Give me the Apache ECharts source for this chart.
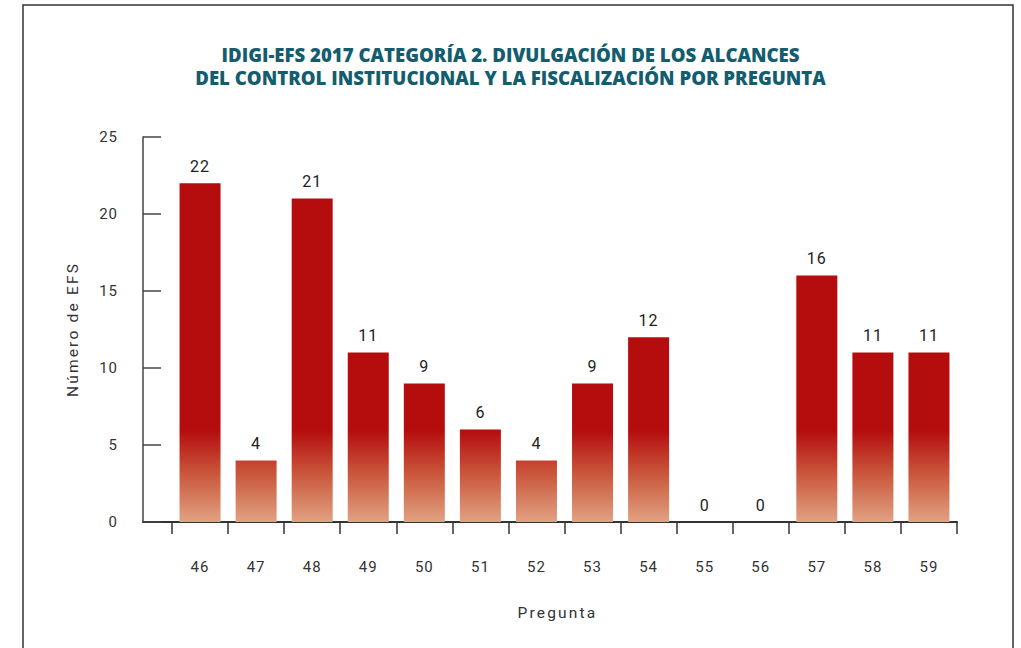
<!DOCTYPE html>
<html>
<head>
<meta charset="utf-8">
<script src="https://cdn.jsdelivr.net/npm/echarts@6/dist/echarts.min.js"></script>
<style>
  html, body { margin: 0; padding: 0; background: #fff; }
  #chart { width: 1021px; height: 648px; }
  /* espaciado de letras como en el original */
  #chart svg text { letter-spacing: 1px; }
  #chart svg text[style*="800"] { letter-spacing: 0; }
  #chart svg text[style*="bold"] { letter-spacing: 0; }
  #chart svg text[style*="15.5px"] { letter-spacing: 2.2px; }
</style>
</head>
<body>
<div id="chart"></div>
<script>
// datos
const preguntas = ['46', '47', '48', '49', '50', '51', '52', '53', '54', '55', '56', '57', '58', '59'];
const numeroEFS = [22, 4, 21, 11, 9, 6, 4, 9, 12, 0, 0, 16, 11, 11];
const yTicks = [0, 5, 10, 15, 20, 25];

const tituloLinea1 = 'IDIGI-EFS 2017 CATEGORÍA 2. DIVULGACIÓN DE LOS ALCANCES';
const tituloLinea2 = 'DEL CONTROL INSTITUCIONAL Y LA FISCALIZACIÓN POR PREGUNTA';

const chart = echarts.init(document.getElementById('chart'), null, { renderer: 'svg' });

// degradado fijo en la parte baja del área de trazado
const barColor = new echarts.graphic.LinearGradient(0, 430, 0, 522, [
  { offset: 0, color: '#b50c0e' },
  { offset: 0.5, color: '#cb5a3e' },
  { offset: 1, color: '#e1a283' }
], true);

const tituloStyle = {
  fontFamily: 'Open Sans',
  fontSize: 18.6,
  fontWeight: 800,
  color: '#135d6e'
};

const option = {
  animation: false,
  textStyle: { fontFamily: 'Roboto' },
  title: [
    { text: tituloLinea1, left: 'center', top: 40, textStyle: tituloStyle },
    { text: tituloLinea2, left: 'center', top: 63, textStyle: tituloStyle }
  ],
  graphic: [
    {
      type: 'rect',
      shape: { x: 23, y: 5, width: 990, height: 700 },
      style: { fill: 'none', stroke: '#333', lineWidth: 1.5 },
      silent: true
    }
  ],
  grid: [
    { left: 172, right: 64, top: 137, bottom: 126 },
    { left: 143, right: 64, top: 137, bottom: 126 }
  ],
  xAxis: [
    {
      type: 'category',
      gridIndex: 0,
      data: preguntas,
      offset: 8,
      axisLine: { show: false },
      axisTick: { show: true, length: 12, lineStyle: { color: '#333', width: 1.5 } },
      axisLabel: { margin: 29, fontSize: 15, color: '#333' },
      name: 'Pregunta',
      nameLocation: 'middle',
      nameGap: 75,
      nameTextStyle: { fontSize: 15.5, color: '#333', padding: [0, 0, 0, -14] }
    },
    {
      type: 'value',
      gridIndex: 1,
      min: 0,
      max: 1,
      axisLine: { show: true, lineStyle: { color: '#333', width: 2 } },
      axisTick: { show: false },
      axisLabel: { show: false },
      splitLine: { show: false }
    }
  ],
  yAxis: [
    {
      type: 'value',
      gridIndex: 0,
      min: yTicks[0],
      max: yTicks[yTicks.length - 1],
      interval: 5,
      offset: 29,
      axisLine: { show: true, lineStyle: { color: '#444', width: 1.5 } },
      axisTick: { show: true, inside: true, length: 18, lineStyle: { color: '#444', width: 1.5 } },
      axisLabel: { margin: 25, fontSize: 15, color: '#333' },
      splitLine: { show: false },
      name: 'Número de EFS',
      nameLocation: 'middle',
      nameGap: 62,
      nameTextStyle: { fontSize: 15.5, color: '#333' }
    },
    {
      type: 'value',
      gridIndex: 1,
      show: false
    }
  ],
  series: [
    {
      type: 'bar',
      xAxisIndex: 0,
      yAxisIndex: 0,
      data: numeroEFS,
      barWidth: 41,
      itemStyle: { color: barColor },
      label: {
        show: true,
        position: 'top',
        distance: 9,
        fontSize: 16,
        color: '#222'
      }
    }
  ]
};

chart.setOption(option);
</script>
</body>
</html>
